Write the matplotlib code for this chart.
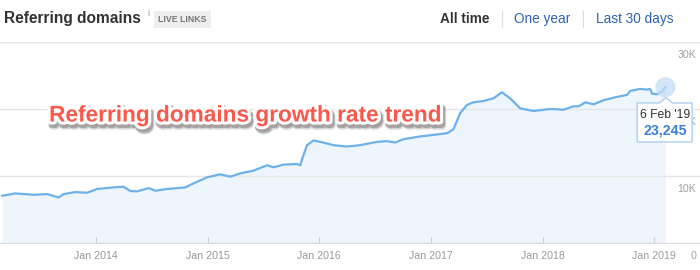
import matplotlib
matplotlib.use('Agg')
import matplotlib.pyplot as plt
import matplotlib.patheffects as pe
from matplotlib.transforms import ScaledTranslation, blended_transform_factory
from matplotlib.patches import Polygon, Circle
from matplotlib.lines import Line2D
import pandas as pd

plt.rcParams['font.family'] = ['Liberation Sans', 'DejaVu Sans']

# Referring domains over time
dates = ['2013-02-28', '2013-04-12', '2013-06-11', '2013-07-25', '2013-09-01', '2013-09-17',
         '2013-10-25', '2013-12-03', '2014-01-04', '2014-02-27', '2014-04-01', '2014-04-23',
         '2014-05-15', '2014-06-22', '2014-07-14', '2014-08-21', '2014-10-20', '2014-11-11',
         '2014-12-30', '2015-02-11', '2015-03-16', '2015-04-18', '2015-05-31', '2015-07-14',
         '2015-08-05', '2015-09-06', '2015-10-20', '2015-10-31', '2015-11-05', '2015-11-22',
         '2015-12-13', '2016-01-04', '2016-02-17', '2016-03-31', '2016-05-14', '2016-06-16',
         '2016-07-08', '2016-08-09', '2016-09-05', '2016-10-03', '2016-11-26', '2017-01-20',
         '2017-02-23', '2017-03-15', '2017-04-06', '2017-04-28', '2017-05-19', '2017-06-21',
         '2017-07-24', '2017-08-20', '2017-09-16', '2017-10-19', '2017-12-02', '2018-01-25',
         '2018-03-10', '2018-04-11', '2018-04-28', '2018-05-20', '2018-06-16', '2018-07-18',
         '2018-08-31', '2018-10-03', '2018-10-14', '2018-11-15', '2018-12-07', '2018-12-18',
         '2018-12-24', '2019-01-09', '2019-01-25', '2019-02-06']
domains = [7060, 7400, 7200, 7300, 6800, 7300,
           7600, 7500, 8060, 8300, 8400, 7760,
           7700, 8200, 7800, 8060, 8300, 8800,
           9800, 10250, 9900, 10400, 10800, 11600,
           11300, 11700, 11800, 11600, 12400, 14600,
           15300, 15100, 14600, 14400, 14600, 14900,
           15100, 15200, 15000, 15500, 15900, 16200,
           16400, 17000, 19400, 20600, 21000, 21200,
           21600, 22500, 21600, 20100, 19700, 20000,
           19900, 20400, 20400, 21000, 20700, 21300,
           21800, 22100, 22700, 23000, 22900, 23000,
           22300, 22200, 22600, 23245]

x_ticks = ['2014-01-01', '2015-01-01', '2016-01-01', '2017-01-01', '2018-01-01', '2019-01-01']
x_tick_labels = ['Jan 2014', 'Jan 2015', 'Jan 2016', 'Jan 2017', 'Jan 2018', 'Jan 2019']
y_ticks = [0, 10000, 20000, 30000]
y_tick_labels = ['0', '10K', '20K', '30K']
periods = ['All time', 'One year', 'Last 30 days']
tooltip_date = "6 Feb '19"

blue_link = '#2a62b0'

fig = plt.figure(figsize=(7, 2.7), dpi=100)
ax = fig.add_axes([0, 27 / 270, 1, 201 / 270])

d = pd.to_datetime(dates)
ax.fill_between(d, domains, 0, color='#eff5fd', lw=0)
ax.plot(d, domains, color='#6db1ea', lw=1.6, solid_joinstyle='round')

ax.set_xlim(pd.Timestamp('2013-02-21'), pd.Timestamp('2019-05-30'))
ax.set_ylim(0, 30000)
ax.set_yticks(y_ticks)
ax.yaxis.grid(True, color='#e6e6e6', lw=1)
ax.set_axisbelow('line')
ax.tick_params(axis='y', length=0, labelleft=False)
ax.set_xticks(pd.to_datetime(x_ticks))
ax.set_xticklabels(x_tick_labels)
ax.tick_params(axis='x', direction='in', length=4.3, width=0.8, color='#d0d0d0',
               labelsize=7.7, labelcolor='#9a9a9a', pad=6)
for s in ['left', 'right', 'top']:
    ax.spines[s].set_visible(False)
ax.spines['bottom'].set_color('#dcdcdc')

# y labels sit just under their gridlines, on the right
ytr = blended_transform_factory(ax.transAxes, ax.transData)
for v, lab in zip(y_ticks, y_tick_labels):
    ax.annotate(lab, xy=(1, v), xycoords=ytr, xytext=(-2.5, -9.4), textcoords='offset points',
                ha='right', va='center', fontsize=7.7, color='#a0a0a0', zorder=1)

# highlight + tooltip on the last point
last_x, last_y = d[-1], domains[-1]
tr = fig.dpi_scale_trans + ScaledTranslation(ax.convert_xunits(last_x), last_y, ax.transData)
ax.add_patch(Circle((0, 0), 0.10, transform=tr, facecolor='#c3dcf5', alpha=0.75,
                    edgecolor='none', clip_on=False, zorder=4))
box = [(-0.283, -0.157), (-0.06, -0.157), (0.005, -0.105), (0.07, -0.157), (0.267, -0.157),
       (0.267, -0.547), (-0.283, -0.547)]
ax.add_patch(Polygon(box, closed=True, transform=tr, facecolor='white', alpha=0.93,
                     edgecolor='#a8cbee', lw=1, clip_on=False, zorder=5))
ax.text(-0.008, -0.277, tooltip_date, transform=tr, ha='center', va='center',
        fontsize=8.7, color='#333333', zorder=6)
ax.text(0.0, -0.437, f'{last_y:,}', transform=tr, ha='center', va='center',
        fontsize=10.2, fontweight='bold', color='#3d7fd6', zorder=6)

# header
fig.text(4 / 700, 1 - 18 / 270, 'Referring domains', fontsize=11.2, fontweight='bold',
         color='#333333', va='center', ha='left')
fig.text(147 / 700, 1 - 13 / 270, 'i', fontsize=6.5, color='#999999', va='center', ha='left')
fig.text(182.5 / 700, 1 - 19.5 / 270, 'LIVE LINKS', fontsize=6.3, fontweight='bold',
         color='#777777', va='center', ha='center',
         bbox=dict(boxstyle='square,pad=0.45', facecolor='#eeeeee', edgecolor='none'))

xs = [440, 514, 596]
for px, lab in zip(xs, periods):
    bold = lab == periods[0]
    fig.text(px / 700, 1 - 19 / 270, lab, fontsize=9.8,
             fontweight='bold' if bold else 'normal',
             color='#333333' if bold else blue_link, va='center', ha='left')
for px in [501.5, 582.5]:
    fig.add_artist(Line2D([px / 700, px / 700], [1 - 11 / 270, 1 - 27 / 270],
                          color='#dddddd', lw=0.8))

# headline overlay
fig.text(244.5 / 700, 1 - 115 / 270, 'Referring domains growth rate trend',
         fontsize=16.3, fontweight='bold', color='#f9584b', ha='center', va='center',
         zorder=10,
         path_effects=[pe.Stroke(linewidth=6, foreground='#8a8a8a', alpha=0.35, offset=(1.5, -2.8)),
                       pe.Stroke(linewidth=5, foreground='#6a6a6a', alpha=0.45, offset=(1.2, -2.2)),
                       pe.Stroke(linewidth=4.5, foreground='white'),
                       pe.Normal()])

fig.savefig('out.png', dpi=100)
